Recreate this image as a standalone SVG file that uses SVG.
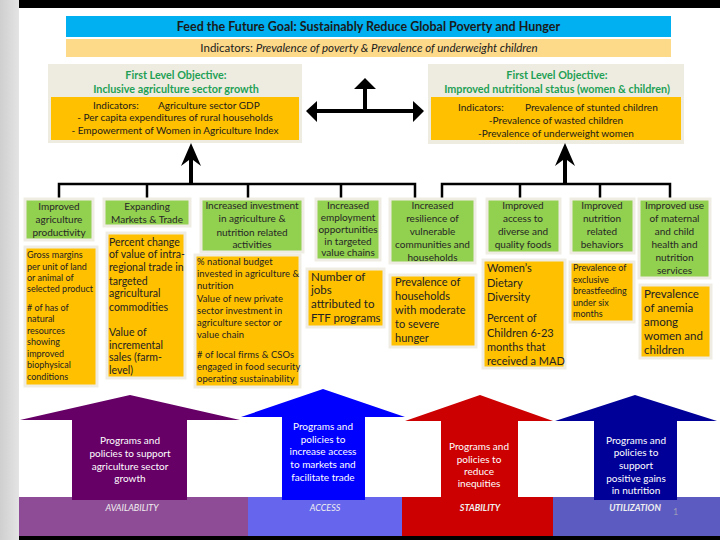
<svg xmlns="http://www.w3.org/2000/svg" width="720" height="540" viewBox="0 0 720 540">
<defs>
<linearGradient id="side" x1="0" y1="0" x2="1" y2="0">
<stop offset="0" stop-color="#cfcfcf"/>
<stop offset="1" stop-color="#e4e4e4"/>
</linearGradient>
</defs>
<style>
text{font-family:Lato,"Liberation Sans",sans-serif;}
.g{fill:#92d050;stroke:#efede3;stroke-width:3;}
.o{fill:#ffc000;stroke:#efede3;stroke-width:3;}
.gt{font-size:10px;fill:#262626;text-anchor:middle;}
.ot{fill:#222;}
.tt{font-size:10.8px;font-weight:bold;fill:#1fa055;text-anchor:middle;}
.it{font-size:10px;fill:#1a1a1a;}
.at{font-size:10px;fill:#fff;text-anchor:middle;}
.bt{font-size:9px;font-style:italic;fill:#f0f0f0;text-anchor:middle;}
.ln{stroke:#000;stroke-width:2.5;fill:none;}
</style>
<rect x="0" y="0" width="720" height="540" fill="#fff"/>
<rect x="0" y="0" width="19" height="540" fill="url(#side)"/>
<rect x="19" y="0" width="701" height="8" fill="#000"/>
<rect x="19" y="536" width="701" height="4" fill="#000"/>

<g id="goal">
<rect x="66" y="16" width="605" height="21" fill="#00b0f0"/>
<text x="368.5" y="31" font-size="12.5" font-weight="bold" fill="#1a1a1a" text-anchor="middle">Feed the Future Goal: Sustainably Reduce Global Poverty and Hunger</text>
<rect x="66" y="39" width="605" height="18" fill="#fdd98a"/>
<text x="369" y="52" font-size="11.5" fill="#1a1a1a" text-anchor="middle">Indicators: <tspan font-style="italic">Prevalence of poverty &amp; Prevalence of underweight children</tspan></text>
</g>

<g id="obj-agri">
<rect x="48" y="64" width="254" height="79" fill="#eeece1"/>
<rect x="51" y="97" width="248" height="43" fill="#ffc000"/>
<text class="tt" x="176" y="78.5">First Level Objective:</text>
<text class="tt" x="176" y="92.5">Inclusive agriculture sector growth</text>
<text class="it" x="93" y="108.5">Indicators:</text>
<text class="it" x="158" y="108.5">Agriculture sector GDP</text>
<text class="it" x="175" y="121" text-anchor="middle">- Per capita expenditures  of rural households</text>
<text class="it" x="175" y="134" text-anchor="middle">- Empowerment of Women in Agriculture Index</text>
</g>

<g id="obj-nutr">
<rect x="428" y="64" width="256" height="80" fill="#eeece1"/>
<rect x="431" y="97" width="250" height="43" fill="#ffc000"/>
<text class="tt" x="557" y="78.5">First Level Objective:</text>
<text class="tt" x="557" y="92.5">Improved nutritional status (women &amp; children)</text>
<text class="it" x="458" y="111">Indicators:</text>
<text class="it" x="525" y="111">Prevalence of stunted children</text>
<text class="it" x="556" y="124" text-anchor="middle">-Prevalence of wasted children</text>
<text class="it" x="556" y="137" text-anchor="middle">-Prevalence of underweight women</text>
</g>

<g id="connectors">
<polygon points="306,111 317,101 317,109 413,109 413,101 424,111 413,122 413,113 317,113 317,122" fill="#000"/>
<polygon points="365,78 376,89 367,89 367,111 363,111 363,89 354,89" fill="#000"/>
<polyline class="ln" points="59,198 59,184 415,184 415,198"/>
<line class="ln" x1="147" y1="184" x2="147" y2="198"/>
<line class="ln" x1="248" y1="184" x2="248" y2="198"/>
<line class="ln" x1="341" y1="184" x2="341" y2="198"/>
<polyline class="ln" points="442,198 442,184 670,184 670,198"/>
<line class="ln" x1="520" y1="184" x2="520" y2="198"/>
<line class="ln" x1="600" y1="184" x2="600" y2="198"/>
<polygon points="191,143 201,166 193,160 193,184 189,184 189,160 181,166" fill="#000"/>
<polygon points="565,143 575,166 567,160 567,184 563,184 563,160 555,166" fill="#000"/>
</g>

<g id="n1">
<rect class="g" x="25" y="199" width="68" height="41"/>
<text class="gt" x="59" y="210">Improved</text>
<text class="gt" x="59" y="223">agriculture</text>
<text class="gt" x="59" y="236">productivity</text>
<rect class="o" x="25" y="247" width="72" height="139"/>
<text class="ot" font-size="9"><tspan x="27" y="258">Gross margins</tspan><tspan x="27" y="270">per unit of land</tspan><tspan x="27" y="281">or animal of</tspan><tspan x="27" y="292">selected product</tspan><tspan x="27" y="311">#  of has of</tspan><tspan x="27" y="322">natural</tspan><tspan x="27" y="334">resources</tspan><tspan x="27" y="345">showing</tspan><tspan x="27" y="357">improved</tspan><tspan x="27" y="368">biophysical</tspan><tspan x="27" y="380">conditions</tspan></text>
</g>

<g id="n2">
<rect class="g" x="104" y="199" width="86" height="27"/>
<text class="gt" x="147" y="210">Expanding</text>
<text class="gt" x="147" y="223">Markets &amp; Trade</text>
<rect class="o" x="107" y="233" width="78" height="145"/>
<text class="ot" font-size="10.5"><tspan x="109" y="246">Percent change</tspan><tspan x="109" y="258">of value of intra-</tspan><tspan x="109" y="271">regional trade in</tspan><tspan x="109" y="285">targeted</tspan><tspan x="109" y="297">agricultural</tspan><tspan x="109" y="311">commodities</tspan><tspan x="109" y="336">Value of</tspan><tspan x="109" y="349">incremental</tspan><tspan x="109" y="361">sales (farm-</tspan><tspan x="109" y="374">level)</tspan></text>
</g>

<g id="n3">
<rect class="g" x="201" y="199" width="102" height="53"/>
<text class="gt" x="252" y="209">Increased investment</text>
<text class="gt" x="252" y="222">in agriculture &amp;</text>
<text class="gt" x="252" y="236">nutrition related</text>
<text class="gt" x="252" y="248">activities</text>
<rect class="o" x="195" y="255" width="105" height="132"/>
<text class="ot" font-size="9.4" letter-spacing="0.1"><tspan x="197" y="265">% national budget</tspan><tspan x="197" y="277">invested in agriculture &amp;</tspan><tspan x="197" y="289">nutrition</tspan><tspan x="197" y="302">Value of new private</tspan><tspan x="197" y="314">sector investment in</tspan><tspan x="197" y="326">agriculture sector or</tspan><tspan x="197" y="338">value chain</tspan><tspan x="197" y="358">#  of local firms &amp; CSOs</tspan><tspan x="197" y="370">engaged in food security</tspan><tspan x="197" y="382">operating sustainability</tspan></text>
</g>

<g id="n4">
<rect class="g" x="316" y="199" width="64" height="61"/>
<text class="gt" font-size="9.5" x="348" y="209">Increased</text>
<text class="gt" font-size="9.5" x="348" y="221">employment</text>
<text class="gt" font-size="9.5" x="348" y="233">opportunities</text>
<text class="gt" font-size="9.5" x="348" y="245">in targeted</text>
<text class="gt" font-size="9.5" x="348" y="256">value chains</text>
<rect class="o" x="307" y="269" width="77" height="58"/>
<text class="ot" font-size="11.5"><tspan x="311" y="281">Number of</tspan><tspan x="311" y="294">jobs</tspan><tspan x="311" y="308">attributed to</tspan><tspan x="311" y="322">FTF programs</tspan></text>
</g>

<g id="n5">
<rect class="g" x="390" y="199" width="85" height="64"/>
<text class="gt" x="432.5" y="209">Increased</text>
<text class="gt" x="432.5" y="222">resilience of</text>
<text class="gt" x="432.5" y="235">vulnerable</text>
<text class="gt" x="432.5" y="248">communities and</text>
<text class="gt" x="432.5" y="261">households</text>
<rect class="o" x="390" y="275" width="86" height="72"/>
<text class="ot" font-size="11"><tspan x="395" y="286">Prevalence of</tspan><tspan x="395" y="300">households</tspan><tspan x="395" y="314">with moderate</tspan><tspan x="395" y="328">to severe</tspan><tspan x="395" y="342">hunger</tspan></text>
</g>

<g id="n6">
<rect class="g" x="487" y="199" width="73" height="54"/>
<text class="gt" x="523" y="209">Improved</text>
<text class="gt" x="523" y="222">access to</text>
<text class="gt" x="523" y="235">diverse and</text>
<text class="gt" x="523" y="248">quality foods</text>
<rect class="o" x="483" y="260" width="82" height="108"/>
<text class="ot" font-size="11"><tspan x="487" y="272">Women’s</tspan><tspan x="487" y="287">Dietary</tspan><tspan x="487" y="301">Diversity</tspan><tspan x="487" y="322">Percent of</tspan><tspan x="487" y="337">Children 6-23</tspan><tspan x="487" y="351">months that</tspan><tspan x="487" y="365">received a MAD</tspan></text>
</g>

<g id="n7">
<rect class="g" x="571" y="199" width="63" height="54"/>
<text class="gt" x="602" y="209">Improved</text>
<text class="gt" x="602" y="222">nutrition</text>
<text class="gt" x="602" y="235">related</text>
<text class="gt" x="602" y="248">behaviors</text>
<rect class="o" x="570" y="262" width="64" height="60"/>
<text class="ot" font-size="9"><tspan x="573" y="271">Prevalence of</tspan><tspan x="573" y="283">exclusive</tspan><tspan x="573" y="294">breastfeeding</tspan><tspan x="573" y="306">under six</tspan><tspan x="573" y="317">months</tspan></text>
</g>

<g id="n8">
<rect class="g" x="639" y="199" width="71" height="79"/>
<text class="gt" x="674.5" y="209">Improved use</text>
<text class="gt" x="674.5" y="222">of maternal</text>
<text class="gt" x="674.5" y="235">and child</text>
<text class="gt" x="674.5" y="248">health and</text>
<text class="gt" x="674.5" y="261">nutrition</text>
<text class="gt" x="674.5" y="274">services</text>
<rect class="o" x="640" y="285" width="71" height="73"/>
<text class="ot" font-size="11.5"><tspan x="644" y="298">Prevalence</tspan><tspan x="644" y="312">of anemia</tspan><tspan x="644" y="326">among</tspan><tspan x="644" y="340">women and</tspan><tspan x="644" y="354">children</tspan></text>
</g>

<g id="availability">
<rect x="19" y="497" width="229" height="39" fill="#8f4c96"/>
<polygon points="20,420 130,395 240,420 187,420 187,500 72,500 72,420" fill="#660066"/>
<text class="at"><tspan x="130" y="444">Programs and</tspan><tspan x="130" y="457">policies to support</tspan><tspan x="130" y="470">agriculture sector</tspan><tspan x="130" y="482">growth</tspan></text>
<text class="bt" x="132" y="511">AVAILABILITY</text>
</g>

<g id="access">
<rect x="248" y="497" width="154" height="39" fill="#6565ee"/>
<polygon points="241,417 323,389 405,417 365,417 365,500 282,500 282,417" fill="#0000ff"/>
<text class="at"><tspan x="323" y="430">Programs and</tspan><tspan x="323" y="443">policies to</tspan><tspan x="323" y="455">increase access</tspan><tspan x="323" y="468">to markets and</tspan><tspan x="323" y="481">facilitate trade</tspan></text>
<text class="bt" x="325" y="511">ACCESS</text>
</g>

<g id="stability">
<rect x="402" y="497" width="151" height="39" fill="#cc0000"/>
<polygon points="405,421 480,395 553,421 518,421 518,500 441,500 441,421" fill="#cc0000"/>
<text class="at"><tspan x="479" y="450">Programs and</tspan><tspan x="479" y="463">policies to</tspan><tspan x="479" y="475">reduce</tspan><tspan x="479" y="487">inequities</tspan></text>
<text class="bt" font-weight="bold" x="480" y="511">STABILITY</text>
</g>

<g id="utilization">
<rect x="553" y="497" width="167" height="39" fill="#5b5bc1"/>
<polygon points="555,421 635,395 717,421 677,421 677,500 594,500 594,421" fill="#000099"/>
<text class="at"><tspan x="636" y="444">Programs and</tspan><tspan x="636" y="456">policies to</tspan><tspan x="636" y="469">support</tspan><tspan x="636" y="482">positive gains</tspan><tspan x="636" y="494">in nutrition</tspan></text>
<text class="bt" font-weight="bold" x="635" y="511">UTILIZATION</text>
<text x="673" y="515" font-size="9" fill="#9a9ab8">1</text>
</g>
</svg>
